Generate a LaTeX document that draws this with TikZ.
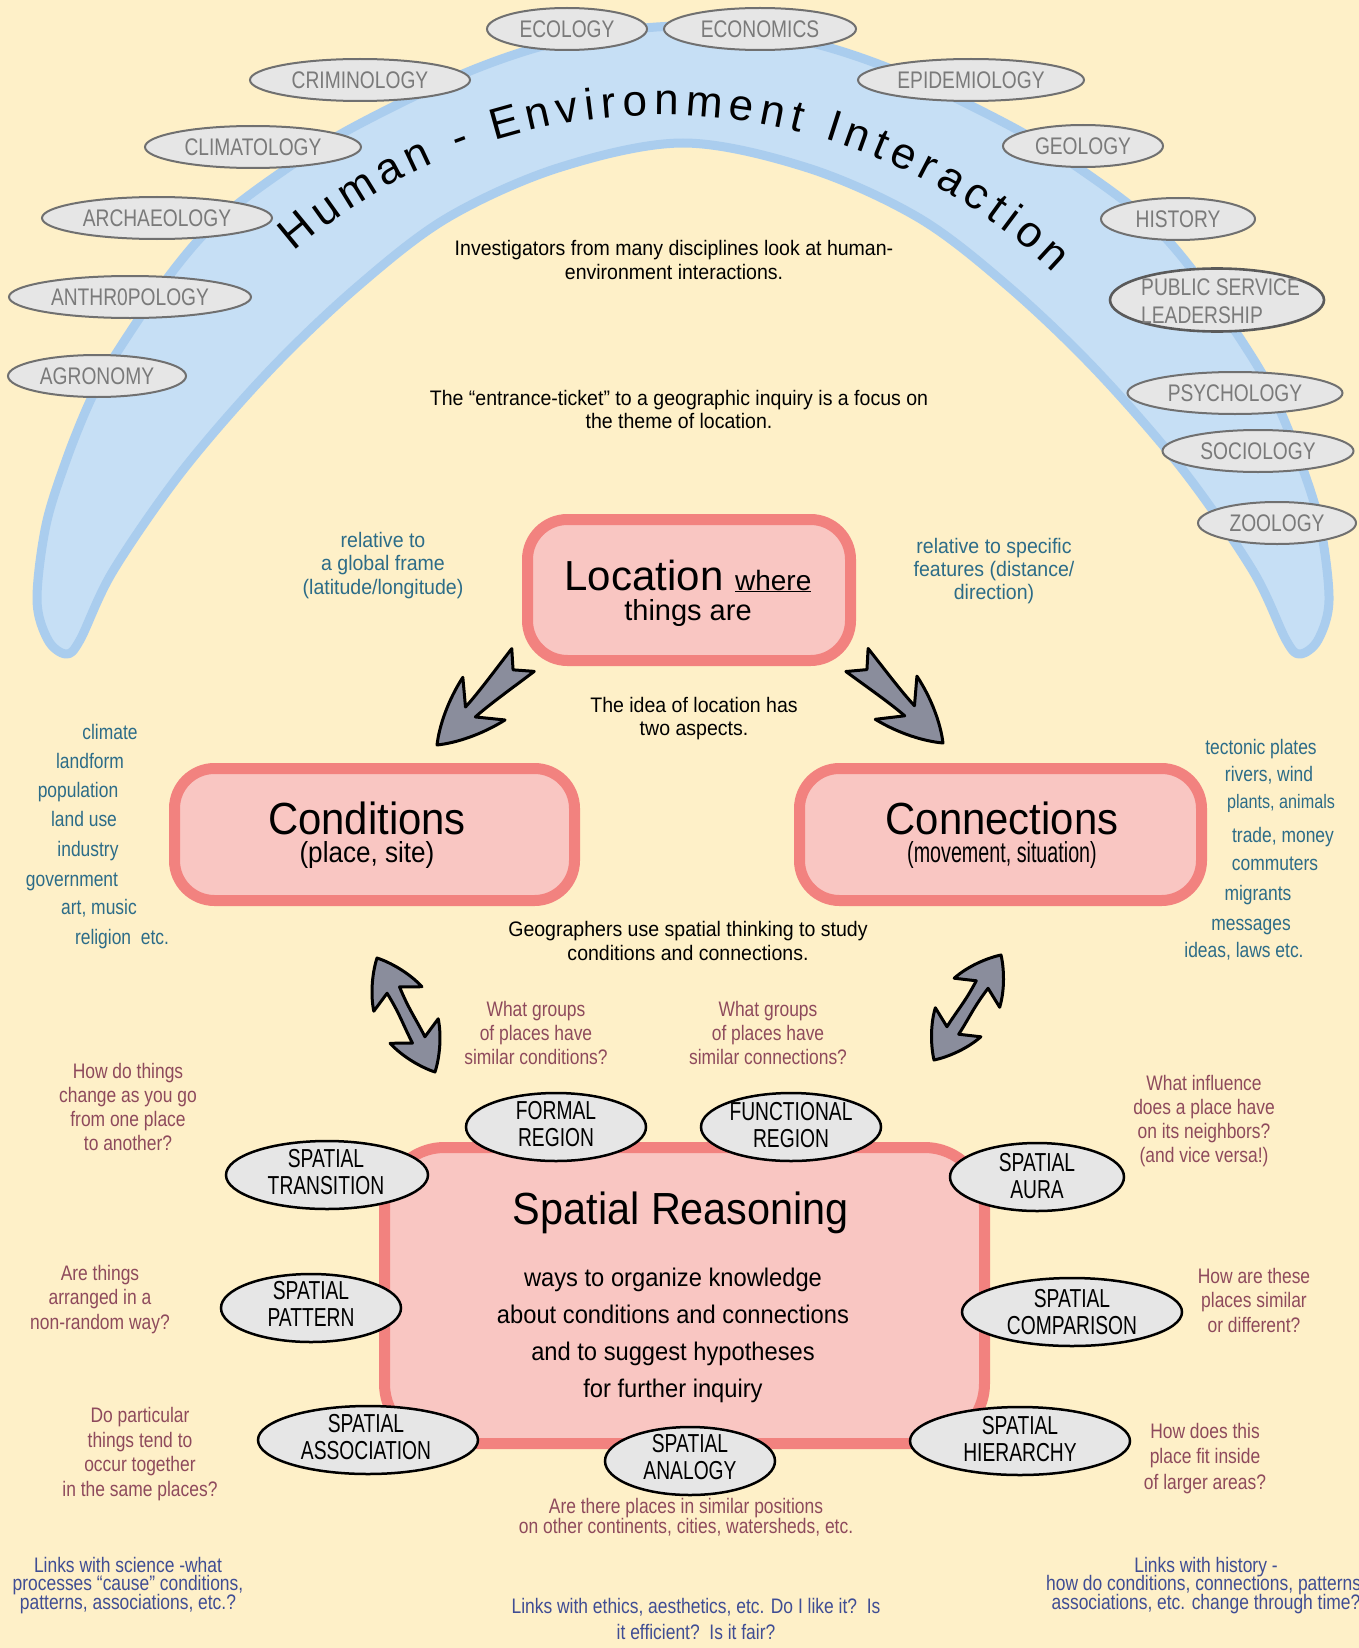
\documentclass[tikz,border=0pt]{standalone}
\usepackage{fontspec}
\setmainfont{Liberation Sans}
\newfontfamily\fArch{Liberation Sans}
\newfontfamily\fDisc{Liberation Sans}[FakeStretch=0.80]
\newfontfamily\fSpat{Liberation Sans}[FakeStretch=0.74]
\newfontfamily\fMid{Liberation Sans}[FakeStretch=0.93]
\newfontfamily\fNar{Liberation Sans}[FakeStretch=0.83]
\newfontfamily\fSub{Liberation Sans}[FakeStretch=0.90]
\newfontfamily\fTitle{Liberation Sans}[FakeStretch=0.92]
\newfontfamily\fMove{Liberation Sans}[FakeStretch=0.68]
\usetikzlibrary{shapes.geometric,decorations.text,calc}
\lineskiplimit=-30pt

\definecolor{bgc}{HTML}{FEF0C8}
\definecolor{bandfill}{HTML}{C6DFF5}
\definecolor{bandline}{HTML}{AACDEE}
\definecolor{discfill}{HTML}{E6E6E6}
\definecolor{discline}{HTML}{707070}
\definecolor{disctext}{HTML}{7A7A7A}
\definecolor{boxfill}{HTML}{F9C6C2}
\definecolor{boxline}{HTML}{F2827F}
\definecolor{arrowfill}{HTML}{8A8D9C}
\definecolor{tealc}{HTML}{2C6C88}
\definecolor{maroonq}{HTML}{8E4A5C}
\definecolor{linkc}{HTML}{3F4D94}

\tikzset{
  discnode/.style={ellipse, draw=discline, line width=2pt, fill=discfill, inner sep=0pt,
    text=disctext, font=\fDisc\fontsize{24}{28}\selectfont},
  spatnode/.style={ellipse, draw=black, line width=2.5pt, fill=discfill, inner sep=0pt},
  spattext/.style={align=center, inner sep=0pt, font=\fSpat\fontsize{26}{27}\selectfont},
  bigbox/.style={draw=boxline, fill=boxfill, line width=11pt, rounded corners=40pt, inner sep=0pt},
  midtext/.style={align=center, inner sep=0pt, anchor=base, font=\fMid\fontsize{21}{24}\selectfont},
  reltext/.style={align=center, inner sep=0pt, anchor=base, text=tealc, font=\fMid\fontsize{21}{23.5}\selectfont},
  tealitem/.style={inner sep=0pt, anchor=base, text=tealc, font=\fNar\fontsize{21}{24}\selectfont},
  qtext/.style={align=center, inner sep=0pt, anchor=base, text=maroonq, font=\fNar\fontsize{21}{24.5}\selectfont},
  linktext/.style={align=center, inner sep=0pt, anchor=base, text=linkc, font=\fNar\fontsize{21}{18.5}\selectfont},
  arrowshape/.style={fill=arrowfill, draw=black, line width=3pt, line join=round},
  plaintext/.style={inner sep=0pt, anchor=base}
}

\newcommand\fatarrow[2]{%
  \path let \p1=(#1), \p2=(#2) in
    \pgfextra{\pgfmathsetmacro\aang{atan2(\y2-\y1,\x2-\x1)}%
      \pgfmathsetmacro\alen{veclen(\x2-\x1,\y2-\y1)}%
      \global\let\Aang\aang\global\let\Alen\alen};
  \begin{scope}[shift={(#1)}, rotate=\Aang, xscale=\Alen/121]
    \draw[arrowshape] (14pt,0pt) -- (0pt,-16pt) .. controls (30pt,-12pt) and (55pt,-8pt) .. (74pt,-7pt)
      -- (55pt,-30pt) .. controls (82pt,-24pt) and (106pt,-12pt) .. (121pt,0pt)
      .. controls (106pt,12pt) and (82pt,24pt) .. (55pt,30pt) -- (74pt,7pt)
      .. controls (55pt,8pt) and (30pt,12pt) .. (0pt,16pt) -- cycle;
  \end{scope}}

\newcommand\dblarrow[2]{%
  \path let \p1=(#1), \p2=(#2) in
    \pgfextra{\pgfmathsetmacro\aang{atan2(\y2-\y1,\x2-\x1)}%
      \pgfmathsetmacro\alen{veclen(\x2-\x1,\y2-\y1)}%
      \global\let\Aang\aang\global\let\Alen\alen};
  \begin{scope}[shift={(#1)}, rotate=\Aang, xscale=\Alen/128]
    \draw[arrowshape] (0pt,0pt) .. controls (10pt,-10pt) and (28pt,-22pt) .. (46pt,-27pt)
      -- (36pt,-7pt) .. controls (60pt,-5pt) and (70pt,-7pt) .. (92pt,-7pt)
      -- (82pt,-27pt) .. controls (100pt,-22pt) and (118pt,-10pt) .. (128pt,0pt)
      .. controls (118pt,10pt) and (100pt,22pt) .. (82pt,27pt)
      -- (92pt,7pt) .. controls (70pt,7pt) and (60pt,5pt) .. (36pt,7pt)
      -- (46pt,27pt) .. controls (28pt,22pt) and (10pt,10pt) .. (0pt,0pt) -- cycle;
  \end{scope}}

\begin{document}
\begin{tikzpicture}[x=1pt, y=-1pt]
\useasboundingbox (0,0) rectangle (1359,1648);
\fill[bgc] (0,0) rectangle (1359,1648);

% arch band
\draw[draw=bandline, fill=bandfill, line width=9pt, line join=round]
  plot[smooth cycle, tension=0.55] coordinates {
  (48,640) (37,600) (46,525) (67,458) (91,399) (114,357) (166,280) (213,225) (273,178)
  (350,129) (470,71) (571,39) (683,26)
  (795,39) (896,71) (1016,129) (1093,178) (1153,225) (1200,280) (1252,357) (1275,399)
  (1299,458) (1320,525) (1329,600) (1318,640) (1300,654) (1286,640)
  (1253,571) (1183,470) (1096,370) (1009,287) (919,218) (808,168) (683,143)
  (558,168) (447,218) (357,287) (270,370) (183,470) (113,571) (80,640) (66,654)};

% arch title
\path[decorate, decoration={text along path, text align={fit to path},
  text={|\fArch\fontsize{44}{44}\selectfont|Human - Environment Interaction}}]
  plot[domain=130.8:46.0, samples=90] ({662+564*cos(\x)}, {679-564*sin(\x)});

% disciplines
\node[discnode, minimum width=160, minimum height=42] (ecol) at (567,29) {ECOLOGY};
\node[discnode, minimum width=192, minimum height=42] (econ) at (760,29) {ECONOMICS};
\node[discnode, minimum width=220, minimum height=42] (crim) at (360,80) {CRIMINOLOGY};
\node[discnode, minimum width=226, minimum height=42] (epid) at (971,80) {EPIDEMIOLOGY};
\node[discnode, minimum width=216, minimum height=42] (clim) at (253,147) {CLIMATOLOGY};
\node[discnode, minimum width=160, minimum height=42] (geol) at (1083,146) {GEOLOGY};
\node[discnode, minimum width=230, minimum height=42] (arch) at (157,218) {ARCHAEOLOGY};
\node[discnode, minimum width=154, minimum height=42] (hist) at (1178,219) {HISTORY};
\node[discnode, minimum width=242, minimum height=42] (anth) at (130,297) {ANTHR0POLOGY};
\node[discnode, minimum width=214, minimum height=63, line width=2.6pt, draw=discline!80!black] (pub) at (1217,300) {};
\node[inner sep=0pt, align=left, anchor=west, text=disctext, font=\fDisc\fontsize{24}{28}\selectfont] (pubt) at (1141,301) {PUBLIC SERVICE\\LEADERSHIP};
\node[discnode, minimum width=178, minimum height=42] (agro) at (97,376) {AGRONOMY};
\node[discnode, minimum width=215, minimum height=42] (psyc) at (1235,393) {PSYCHOLOGY};
\node[discnode, minimum width=191, minimum height=42] (soci) at (1258,451) {SOCIOLOGY};
\node[discnode, minimum width=158, minimum height=42] (zool) at (1277,523) {ZOOLOGY};

% explanatory black texts (y = baseline of last line)
\node[midtext] (inv) at (674,279) {Investigators from many disciplines look at human-\\environment interactions.};
\node[midtext, font=\fMid\fontsize{21}{23}\selectfont] (ent) at (679,428) {The “entrance-ticket” to a geographic inquiry is a focus on\\the theme of location.};
\node[midtext, font=\fMid\fontsize{21}{23}\selectfont] (idea) at (694,735) {The idea of location has\\two aspects.};
\node[midtext] (geog) at (688,960) {Geographers use spatial thinking to study\\conditions and connections.};

% relative texts
\node[reltext] (rel1) at (383,594) {relative to\\a global frame\\(latitude/longitude)};
\node[reltext, font=\fMid\fontsize{21}{23}\selectfont] (rel2) at (994,599) {relative to specific\\features (distance/\\direction)};

% main boxes
\node[bigbox, minimum width=323, minimum height=141] (loc) at (689,590) {};
\node[plaintext] (loct1) at (688,590) {\fontsize{42}{46}\selectfont Location\ {\fontsize{28}{32}\selectfont\underline{where}}};
\node[plaintext, font=\fontsize{29}{32}\selectfont] (loct2) at (688,620) {things are};

\node[bigbox, minimum width=400, minimum height=132] (cond) at (374.5,834.5) {};
\node[plaintext, font=\fMid\fontsize{45}{50}\selectfont] (condt) at (367,834) {Conditions};
\node[plaintext, font=\fSub\fontsize{29}{32}\selectfont] (conds) at (367,862) {(place, site)};

\node[bigbox, minimum width=402, minimum height=132] (conn) at (1000.5,834.5) {};
\node[plaintext, font=\fMid\fontsize{45}{50}\selectfont] (connt) at (1002,834) {Connections};
\node[plaintext, font=\fMove\fontsize{29}{32}\selectfont] (conns) at (1002,862) {(movement, situation)};

\node[bigbox, rounded corners=60pt, minimum width=600, minimum height=296] (sr) at (684.5,1295.5) {};
\node[plaintext, font=\fTitle\fontsize{45}{50}\selectfont] (srt) at (681,1224) {Spatial Reasoning};
\node[plaintext, align=center, font=\fMid\fontsize{25.5}{37}\selectfont] (srb) at (673,1397) {ways to organize knowledge\\about conditions and connections\\and to suggest hypotheses\\for further inquiry};

% arrows
\coordinate (a1s) at (523,660); \coordinate (a1e) at (437,745);
\coordinate (a2s) at (857,660); \coordinate (a2e) at (943,743);
\coordinate (a3s) at (377,958); \coordinate (a3e) at (435,1072);
\coordinate (a4s) at (1001,955); \coordinate (a4e) at (934,1060);
\fatarrow{a1s}{a1e}
\fatarrow{a2s}{a2e}
\dblarrow{a3s}{a3e}
\dblarrow{a4s}{a4e}

% condition list
\node[tealitem] (c1) at (110,739) {climate};
\node[tealitem] (c2) at (90,768) {landform};
\node[tealitem] (c3) at (78,797) {population};
\node[tealitem] (c4) at (84,826) {land use};
\node[tealitem] (c5) at (88,856) {industry};
\node[tealitem] (c6) at (72,886) {government};
\node[tealitem] (c7) at (99,914) {art, music};
\node[tealitem] (c8) at (122,944) {religion\ \ etc.};

% connection list
\node[tealitem] (k1) at (1261,754) {tectonic plates};
\node[tealitem] (k2) at (1269,781) {rivers, wind};
\node[tealitem, font=\fNar\fontsize{19.5}{22}\selectfont] (k3) at (1281,808) {plants, animals};
\node[tealitem] (k4) at (1283,842) {trade, money};
\node[tealitem] (k5) at (1275,870) {commuters};
\node[tealitem] (k6) at (1258,900) {migrants};
\node[tealitem] (k7) at (1251,930) {messages};
\node[tealitem] (k8) at (1244,957) {ideas, laws etc.};

% spatial concept ellipses
\node[spatnode, minimum width=180, minimum height=68] (formal) at (556,1127) {};
\node[spattext] (formalt) at (556,1124) {FORMAL\\REGION};
\node[spatnode, minimum width=180, minimum height=68] (func) at (791,1127) {};
\node[spattext] (funct) at (791,1125) {FUNCTIONAL\\REGION};
\node[spatnode, minimum width=202, minimum height=68] (trans) at (327,1175) {};
\node[spattext] (transt) at (326,1172) {SPATIAL\\TRANSITION};
\node[spatnode, minimum width=174, minimum height=68] (aura) at (1037,1177) {};
\node[spattext] (aurat) at (1037,1176) {SPATIAL\\AURA};
\node[spatnode, minimum width=180, minimum height=68] (patt) at (311,1308) {};
\node[spattext] (pattt) at (311,1304) {SPATIAL\\PATTERN};
\node[spatnode, minimum width=220, minimum height=68] (comp) at (1072,1312) {};
\node[spattext] (compt) at (1072,1312) {SPATIAL\\COMPARISON};
\node[spatnode, minimum width=220, minimum height=68] (assoc) at (368,1440) {};
\node[spattext] (assoct) at (366,1437) {SPATIAL\\ASSOCIATION};
\node[spatnode, minimum width=170, minimum height=68] (anal) at (690,1461) {};
\node[spattext] (analt) at (690,1457) {SPATIAL\\ANALOGY};
\node[spatnode, minimum width=220, minimum height=68] (hier) at (1020,1441) {};
\node[spattext] (hiert) at (1020,1439) {SPATIAL\\HIERARCHY};

% questions (y = baseline of last line)
\node[qtext, font=\fNar\fontsize{21}{24}\selectfont] (q1) at (536,1064) {What groups\\of places have\\similar conditions?};
\node[qtext, font=\fNar\fontsize{21}{24}\selectfont] (q2) at (768,1064) {What groups\\of places have\\similar connections?};
\node[qtext, font=\fNar\fontsize{21}{24}\selectfont] (q3) at (128,1150) {How do things\\change as you go\\from one place\\to another?};
\node[qtext] (q4) at (100,1329) {Are things\\arranged in a\\non-random way?};
\node[qtext] (q5) at (140,1496) {Do particular\\things tend to\\occur together\\in the same places?};
\node[qtext, font=\fNar\fontsize{21}{19.5}\selectfont] (q6) at (686,1533) {Are there places in similar positions\\on other continents, cities, watersheds, etc.};
\node[qtext, font=\fNar\fontsize{21}{24}\selectfont] (q7) at (1204,1162) {What influence\\does a place have\\on its neighbors?\\(and vice versa!)};
\node[qtext] (q8) at (1254,1332) {How are these\\places similar\\or different?};
\node[qtext, font=\fNar\fontsize{21}{25.5}\selectfont] (q9) at (1205,1489) {How does this\\place fit inside\\of larger areas?};

% links
\node[linktext] (l1) at (128,1609) {Links with science -what\\processes “cause” conditions,\\patterns, associations, etc.?};
\node[linktext] (l2) at (1206,1609) {Links with history -\\how do conditions, connections, patterns,\\associations, etc. change through time?};
\node[linktext, font=\fNar\fontsize{21}{26}\selectfont] (l3) at (696,1639) {Links with ethics, aesthetics, etc. Do I like it?\ \ Is\\it efficient?\ \ Is it fair?};
\end{tikzpicture}
\end{document}
